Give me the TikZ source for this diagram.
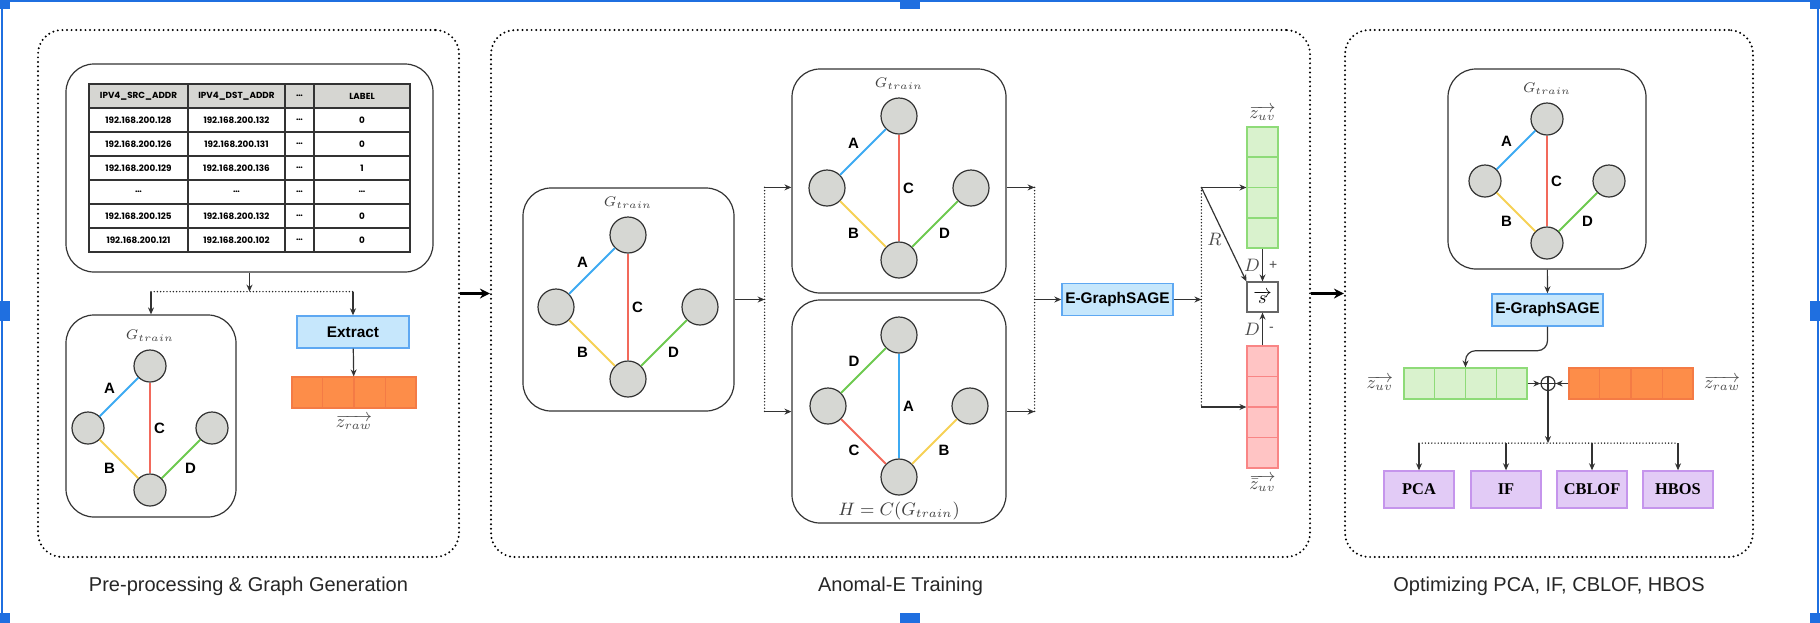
\documentclass[tikz,border=0pt]{standalone}
\usepackage{fontspec}
\setmainfont{Liberation Serif}
\setsansfont{Liberation Sans}
\newfontfamily\tabfont{Poppins}
\usetikzlibrary{positioning,calc,arrows.meta}
\tikzset{>={Stealth[length=3.5pt,width=3pt]}}

\definecolor{vtxgray}{HTML}{D6D7D3}
\definecolor{edgeA}{HTML}{3DAAF2}
\definecolor{edgeB}{HTML}{F6D155}
\definecolor{edgeC}{HTML}{F2695B}
\definecolor{edgeD}{HTML}{6DC94F}
\definecolor{sagefill}{HTML}{C6E7FC}
\definecolor{sageline}{HTML}{5EA8F2}
\definecolor{uvfill}{HTML}{D9F2CD}
\definecolor{uvline}{HTML}{8EDB78}
\definecolor{negfill}{HTML}{FFC4C4}
\definecolor{negline}{HTML}{F98585}
\definecolor{rawfill}{HTML}{FD8D49}
\definecolor{rawline}{HTML}{F47B45}
\definecolor{algfill}{HTML}{E2CBF6}
\definecolor{algline}{HTML}{C595EC}
\definecolor{hdrgray}{HTML}{D6D6D2}
\definecolor{selblue}{HTML}{1F6FE0}

% graph with four vertices: name, centre x, centre y, spread, vertex size, edge labels
\newcommand*{\trainGraph}[9]{%
  \node[vtx,minimum size=#5] (#1t) at (#2,{#3-#4}) {};
  \node[vtx,minimum size=#5] (#1l) at ({#2-#4},#3) {};
  \node[vtx,minimum size=#5] (#1r) at ({#2+#4},#3) {};
  \node[vtx,minimum size=#5] (#1b) at (#2,{#3+#4}) {};
  \draw[gedge,draw=edge#6] (#1l) -- node[elabel,above left] {#6} (#1t);
  \draw[gedge,draw=edge#7] (#1t) -- node[elabel,right] {#7} (#1b);
  \draw[gedge,draw=edge#8] (#1l) -- node[elabel,below left] {#8} (#1b);
  \draw[gedge,draw=edge#9] (#1b) -- node[elabel,below right] {#9} (#1r);
}

\begin{document}
\begin{tikzpicture}[x=0.5pt,y=-0.5pt,
  panel/.style={draw,line width=1.1pt,dash pattern=on 0pt off 2.3pt,line cap=round,
    rounded corners=12pt,minimum height=263.5pt,inner sep=0pt},
  gbox/.style={draw=black!80,line width=0.6pt,rounded corners=14pt,inner sep=0pt},
  vtx/.style={circle,draw=black!80,fill=vtxgray,line width=0.6pt,inner sep=0pt},
  gedge/.style={line width=1pt},
  elabel/.style={font=\sffamily\bfseries\fontsize{7.5}{8}\selectfont,inner sep=1.5pt},
  glabel/.style={font=\fontsize{7.5}{8}\selectfont,text=black!75,inner sep=1pt},
  sage/.style={draw=sageline,fill=sagefill,line width=0.7pt,inner sep=0pt,minimum height=16pt,
    font=\sffamily\bfseries\fontsize{7.7}{8}\selectfont},
  alg/.style={draw=algline,fill=algfill,line width=0.7pt,minimum width=35pt,minimum height=18.5pt,
    inner sep=0pt,font=\bfseries\fontsize{8.2}{9}\selectfont},
  vec/.style={line width=0.6pt,inner sep=0pt},
  conn/.style={->,draw=black!80,line width=0.6pt},
  dotline/.style={draw=black!85,line width=0.8pt,dash pattern=on 0pt off 1.6pt,line cap=round},
  bigarrow/.style={draw=black,line width=1.3pt,-{Stealth[length=5pt,width=5pt]}},
  caption/.style={font=\sffamily\fontsize{10}{12}\selectfont,text=black!85},
  tabtext/.style={font=\tabfont\bfseries\fontsize{4.4}{5}\selectfont,inner sep=0pt},
  tabline/.style={draw=black!80,line width=0.8pt},
  mlabel/.style={text=black!70,font=\fontsize{9}{10}\selectfont,inner sep=1pt}]
\useasboundingbox (0,0) rectangle (1820,622);

% Selection frame
\begin{scope}
\clip (0,0) rectangle (1820,622);
\draw[selblue,line width=1.2pt] (0,1) -- (1820,1) (2,0) -- (2,622) (1818,0) -- (1818,622);
\foreach \hx/\hy in {0/-1,910/-1,1820/-1,0/311,1820/311,0/623,910/623,1820/623}
  \fill[selblue] (\hx-10,\hy-10) rectangle (\hx+10,\hy+10);
\end{scope}

% Panels
\node[panel,minimum width=210.5pt] (p1) at (248.5,293.5) {};
\node[panel,minimum width=409.5pt] (p2) at (900.5,293.5) {};
\node[panel,minimum width=204pt] (p3) at (1549,293.5) {};
\draw[bigarrow] (p1) -- (p2);
\draw[bigarrow] (p2) -- (p3);
\node[caption,below=6pt of p1] {Pre-processing \& Graph Generation};
\node[caption,below=6pt of p2] {Anomal-E Training};
\node[caption,below=6pt of p3] {Optimizing PCA, IF, CBLOF, HBOS};

% Panel 1: table
\node[gbox,minimum width=183.5pt,minimum height=104pt] (tc) at (249.5,168) {};
\fill[hdrgray] (89,84) rectangle (410,108);
\foreach \y in {108,132,...,228} \draw[tabline] (89,\y) -- (410,\y);
\foreach \x in {188,285,314} \draw[tabline] (\x,84) -- (\x,252);
\draw[tabline] (89,84) rectangle (410,252);
\node[tabtext] at (138.5,96) {IPV4\_SRC\_ADDR};
\node[tabtext] at (236.5,96) {IPV4\_DST\_ADDR};
\node[tabtext] at (299.5,96) {\ldots};
\node[tabtext] at (362,96) {LABEL};
\foreach \a/\b/\l [count=\r] in {192.168.200.128/192.168.200.132/0,
    192.168.200.126/192.168.200.131/0, 192.168.200.129/192.168.200.136/1,
    \ldots/\ldots/\ldots, 192.168.200.125/192.168.200.132/0,
    192.168.200.121/192.168.200.102/0} {
  \node[tabtext] at (138.5,{96+24*\r}) {\a};
  \node[tabtext] at (236.5,{96+24*\r}) {\b};
  \node[tabtext] at (299.5,{96+24*\r}) {\ldots};
  \node[tabtext] at (362,{96+24*\r}) {\l};
}

% Panel 1: graph and raw features
\coordinate (js) at ([yshift=-9.5pt]tc.south);
\node[gbox,minimum width=85pt,minimum height=101pt] (g1box) at (151,416) {};
\trainGraph{g1}{150}{428}{62}{16pt}{A}{C}{B}{D}
\node[glabel,above=3pt of g1t] {$G_{train}$};
\node[sage,minimum width=56pt] (ext) at (353,332) {Extract};
\draw[dotline] (g1box |- js) -- (ext |- js);
\draw[conn] (tc) -- (js);
\draw[conn] (g1box |- js) -- (g1box);
\draw[conn] (ext |- js) -- (ext);
\node[vec,fill=rawfill,draw=rawline,minimum width=62pt,minimum height=15.5pt] (raw1) at (354,392.5) {};
\foreach \k in {1,2,3}
  \draw[rawline,line width=0.6pt] ($(raw1.north west)!\k/4!(raw1.north east)$) -- ($(raw1.south west)!\k/4!(raw1.south east)$);
\draw[conn] (ext) -- (raw1);
\node[mlabel,below=2pt of raw1] {$\overrightarrow{z_{raw}}$};

% Panel 2: graph and corrupted graph
\node[gbox,minimum width=105.5pt,minimum height=111.5pt] (gcbox) at (628.5,299.5) {};
\trainGraph{gc}{628}{307}{72}{18pt}{A}{C}{B}{D}
\node[glabel,above=3pt of gct] {$G_{train}$};
\node[gbox,minimum width=107pt,minimum height=112pt] (gtbox) at (899,181) {};
\trainGraph{gt}{899}{188}{72}{18pt}{A}{C}{B}{D}
\node[glabel,above=3pt of gtt] {$G_{train}$};
\node[gbox,minimum width=107pt,minimum height=111.5pt] (gbbox) at (899,411.5) {};
\trainGraph{gb}{899}{406}{71}{18pt}{D}{A}{C}{B}
\node[glabel,font=\fontsize{9}{10}\selectfont,below=2pt of gbb] {$H = C(G_{train})$};

\coordinate (j1t) at ([xshift=15pt]gcbox.north east);
\coordinate (j1b) at ([xshift=15pt]gcbox.south east);
\draw[dotline] (j1t) -- (j1b);
\draw[conn] (gcbox) -- (gcbox -| j1t);
\draw[conn] (j1t) -- (j1t -| gtbox.west);
\draw[conn] (j1b) -- (j1b -| gbbox.west);
\coordinate (j2t) at ([xshift=14pt]j1t -| gtbox.east);
\coordinate (j2b) at ([xshift=14pt]j1b -| gbbox.east);
\draw[dotline] (j2t) -- (j2b);
\draw[conn] (j2t -| gtbox.east) -- (j2t);
\draw[conn] (j2b -| gbbox.east) -- (j2b);
\node[sage,minimum width=55.5pt] (es) at (1117.5,299.5) {E-GraphSAGE};
\draw[conn] (es -| j2t) -- (es);

% Panel 2: embeddings and score
\node[vec,fill=uvfill,draw=uvline,minimum width=15.5pt,minimum height=60.5pt] (zuv) at (1262.5,187.5) {};
\node[vec,fill=negfill,draw=negline,minimum width=15.5pt,minimum height=61pt] (zneg) at (1262.5,407) {};
\foreach \k in {1,2,3} {
  \draw[uvline,line width=0.6pt] ($(zuv.north west)!\k/4!(zuv.south west)$) -- ($(zuv.north east)!\k/4!(zuv.south east)$);
  \draw[negline,line width=0.6pt] ($(zneg.north west)!\k/4!(zneg.south west)$) -- ($(zneg.north east)!\k/4!(zneg.south east)$);
}
\node[draw=black!60,line width=0.6pt,minimum width=15.5pt,minimum height=15pt,inner sep=0pt,
  font=\fontsize{9}{10}\selectfont] (s) at (1262.5,297) {$\overrightarrow{s}$};
\node[mlabel,above=2pt of zuv] {$\overrightarrow{z_{uv}}$};
\node[mlabel,below=2pt of zneg] {$\overrightarrow{\bar{z}_{uv}}$};
\coordinate (j3t) at ([xshift=-22.5pt]zuv.west);
\coordinate (j3b) at ([xshift=-22.5pt]zneg.west);
\draw[dotline] (j3t) -- (j3b);
\draw[conn] (es) -- (es -| j3t);
\draw[conn] (j3t) -- (zuv);
\draw[conn] (j3b) -- (zneg);
\draw[conn] (j3t) -- node[mlabel,left=1pt,pos=0.55] {$R$} (s.north west);
\draw[conn] (zuv) -- node[mlabel,left] {$D$} node[mlabel,right=2pt,font=\sffamily\fontsize{7}{8}\selectfont] {+} (s);
\draw[conn] (zneg) -- node[mlabel,left] {$D$} node[mlabel,right=2pt,font=\sffamily\fontsize{7}{8}\selectfont] {-} (s);

% Panel 3: optimizing
\node[gbox,minimum width=99pt,minimum height=100pt] (g3box) at (1547,169) {};
\trainGraph{g3}{1547}{181}{62}{16pt}{A}{C}{B}{D}
\node[glabel,above=3pt of g3t] {$G_{train}$};
\node[sage,minimum width=55.5pt] (es3) at (1547.5,310) {E-GraphSAGE};
\draw[conn] (g3box) -- (es3);
\node[vec,fill=uvfill,draw=uvline,minimum width=61.5pt,minimum height=15.5pt] (uv3) at (1465.5,383.5) {};
\node[vec,fill=rawfill,draw=rawline,minimum width=62pt,minimum height=15.5pt] (raw3) at (1631,383.5) {};
\foreach \k in {1,2,3} {
  \draw[uvline,line width=0.6pt] ($(uv3.north west)!\k/4!(uv3.north east)$) -- ($(uv3.south west)!\k/4!(uv3.south east)$);
  \draw[rawline,line width=0.6pt] ($(raw3.north west)!\k/4!(raw3.north east)$) -- ($(raw3.south west)!\k/4!(raw3.south east)$);
}
\node[circle,draw=black!80,line width=0.6pt,minimum size=7pt,inner sep=0pt] (op) at (1548,383.5) {};
\draw[black!80,line width=0.6pt] (op.north) -- (op.south) (op.west) -- (op.east);
\node[mlabel,left=4pt of uv3] {$\overrightarrow{z_{uv}}$};
\node[mlabel,right=4pt of raw3] {$\overrightarrow{z_{raw}}$};
\draw[conn,rounded corners=5pt] (es3.south) -- ++(0,24) -| (uv3);
\draw[conn] (uv3) -- (op);
\draw[conn] (raw3) -- (op);

\coordinate (jd) at ([yshift=-26pt]op.south);
\node[alg] (pca) at (1419,489.5) {PCA};
\node[alg] (ifor) at (1506,489.5) {IF};
\node[alg] (cblof) at (1592,489.5) {CBLOF};
\node[alg] (hbos) at (1678,489.5) {HBOS};
\draw[conn] (op) -- (jd);
\draw[dotline] (pca |- jd) -- (hbos |- jd);
\foreach \n in {pca,ifor,cblof,hbos} \draw[conn] (\n |- jd) -- (\n);

\end{tikzpicture}
\end{document}
